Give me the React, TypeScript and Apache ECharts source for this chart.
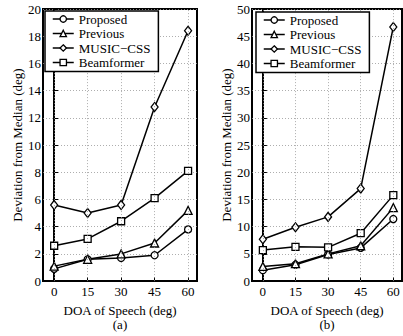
import React, { useEffect, useRef } from "react";
import * as echarts from "echarts";

const doa = [0, 15, 30, 45, 60];
const seriesNames = ["Proposed", "Previous", "MUSIC\u2212CSS", "Beamformer"];
const symbols = ["circle", "triangle", "diamond", "rect"];
const symbolSizes = [7, 8, [7, 9], 7];

// Panel (a)
const aProposed = [0.9, 1.6, 1.7, 1.9, 3.8];
const aPrevious = [1.1, 1.6, 2.0, 2.8, 5.2];
const aMusic = [5.6, 5.0, 5.6, 12.8, 18.4];
const aBeam = [2.6, 3.1, 4.4, 6.1, 8.1];

// Panel (b)
const bProposed = [2.0, 3.0, 4.9, 6.1, 11.4];
const bPrevious = [2.7, 3.2, 5.0, 6.5, 13.5];
const bMusic = [7.7, 9.9, 11.8, 17.0, 46.7];
const bBeam = [5.7, 6.3, 6.2, 8.8, 15.8];

const xTicks = [0, 15, 30, 45, 60];

const FONT = "'Liberation Serif', 'Times New Roman', 'DejaVu Serif', serif";

export default function App() {
  const ref = useRef<HTMLDivElement>(null);
  useEffect(() => {
    if (!ref.current) return;
    const chart = echarts.init(ref.current, null, { renderer: "svg" });
    const mk = (name: string, i: number, data: number[], axis: number) => ({
      name,
      type: "line",
      xAxisIndex: axis,
      yAxisIndex: axis,
      data: doa.map((x, k) => [x, data[k]]),
      symbol: symbols[i],
      symbolSize: symbolSizes[i],
      showSymbol: true,
      clip: false,
      color: "#000",
      lineStyle: { color: "#000", width: 1.5 },
      itemStyle: { color: "#fff", borderColor: "#000", borderWidth: 1.3 },
      z: 3,
    });
    const xAxisCommon = (name: string) => ({
      type: "value",
      min: -5,
      max: 64,
      axisLine: { show: true, lineStyle: { color: "#000", width: 2 } },
      axisTick: { show: true, inside: true, length: 4, customValues: xTicks, lineStyle: { color: "#000" } },
      axisLabel: { customValues: xTicks, color: "#000", fontFamily: FONT, fontSize: 13, margin: 4 },
      splitLine: { show: false },
      name,
      nameLocation: "middle",
      nameGap: 10,
      nameTextStyle: { color: "#000", fontFamily: FONT, fontSize: 13, lineHeight: 14 },
    });
    const yAxisCommon = (max: number, interval: number, gap: number) => ({
      type: "value",
      min: 0,
      max,
      interval,
      axisLine: { show: true, lineStyle: { color: "#000", width: 2 } },
      axisTick: { show: true, inside: true, length: 4, lineStyle: { color: "#000" } },
      axisLabel: { color: "#000", fontFamily: FONT, fontSize: 13, margin: 2 },
      splitLine: { show: true, lineStyle: { color: "#999", width: 0.8, type: [1, 2] } },
      name: "Deviation from Median (deg)",
      nameLocation: "middle",
      nameGap: gap,
      nameTextStyle: { color: "#000", fontFamily: FONT, fontSize: 13 },
    });
    const vGrid = (axis: number) => ({
      name: "_grid" + axis,
      type: "line",
      xAxisIndex: axis,
      yAxisIndex: axis,
      data: [],
      silent: true,
      markLine: {
        silent: true,
        symbol: "none",
        label: { show: false },
        lineStyle: { color: "#999", width: 0.8, type: [1, 2] },
        data: xTicks.map((v) => ({ xAxis: v })),
      },
      z: 1,
    });
    const legendCommon = (left: number, top: number) => ({
      left,
      top,
      orient: "vertical",
      data: seriesNames,
      itemWidth: 21,
      itemHeight: 8,
      itemGap: 0.5,
      padding: [1, 8, 2, 7],
      borderColor: "#000",
      borderWidth: 1.5,
      backgroundColor: "#fff",
      selectedMode: false,
      itemStyle: { color: "#fff", borderColor: "#000", borderWidth: 1.3 },
      lineStyle: { color: "#000", width: 1.5 },
      textStyle: { color: "#000", fontFamily: FONT, fontSize: 13, lineHeight: 14 },
      z: 10,
    });
    chart.setOption({
      animation: false,
      backgroundColor: "#fff",
      grid: [
        { left: 43, top: 9, width: 154, height: 284, show: true, borderColor: "#000", borderWidth: 2, containLabel: false },
        { left: 252, top: 9, width: 150, height: 284, show: true, borderColor: "#000", borderWidth: 2, containLabel: false },
      ],
      xAxis: [
        { ...xAxisCommon("DOA of Speech (deg)\n(a)"), gridIndex: 0 },
        { ...xAxisCommon("DOA of Speech (deg)\n(b)"), gridIndex: 1 },
      ],
      yAxis: [
        { ...yAxisCommon(20, 2, 16), gridIndex: 0 },
        { ...yAxisCommon(50, 5, 16), gridIndex: 1 },
      ],
      legend: [legendCommon(45, 11), legendCommon(256, 12)],
      series: [
        vGrid(0),
        vGrid(1),
        mk(seriesNames[0], 0, aProposed, 0),
        mk(seriesNames[1], 1, aPrevious, 0),
        mk(seriesNames[2], 2, aMusic, 0),
        mk(seriesNames[3], 3, aBeam, 0),
        mk(seriesNames[0], 0, bProposed, 1),
        mk(seriesNames[1], 1, bPrevious, 1),
        mk(seriesNames[2], 2, bMusic, 1),
        mk(seriesNames[3], 3, bBeam, 1),
      ],
    });
    return () => chart.dispose();
  }, []);
  return (
    <div
      ref={ref}
      style={{ position: "fixed", left: 0, top: 0, width: 403, height: 336, background: "#fff" }}
    />
  );
}
